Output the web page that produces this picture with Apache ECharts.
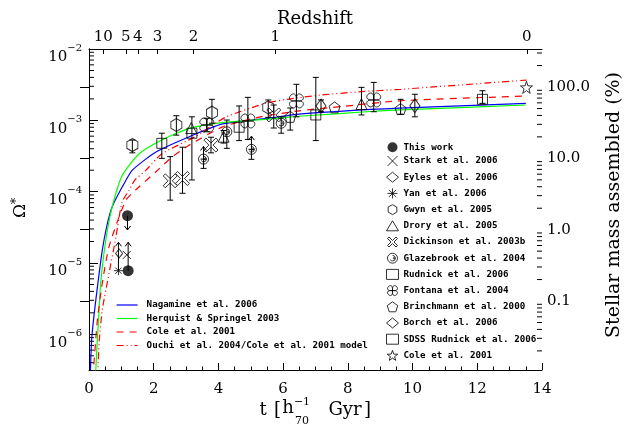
<!DOCTYPE html>
<html><head><meta charset="utf-8">
<script src="https://cdn.jsdelivr.net/npm/echarts@6/dist/echarts.min.js"></script>
<style>html,body{margin:0;padding:0;background:#fff}#c{width:633px;height:426px}</style>
</head><body><div id="c"></div>
<script>
// ---------- axes ----------
const tRange = [0, 14];
const omegaRange = [3.162e-7, 1e-2];
const omegaToday = 2.93e-3;           // Omega* at t0  ->  100 %
const zTickT = [0.44, 1.14, 1.51, 2.12, 3.23, 5.76, 13.53];
const zTickLabels = ['10', '5', '4', '3', '2', '1', '0'];
const omegaMinorTicks = [4e-7,5e-7,6e-7,7e-7,8e-7,9e-7,
  2e-6,3e-6,4e-6,5e-6,6e-6,7e-6,8e-6,9e-6,
  2e-5,3e-5,4e-5,5e-5,6e-5,7e-5,8e-5,9e-5,
  2e-4,3e-4,4e-4,5e-4,6e-4,7e-4,8e-4,9e-4,
  2e-3,3e-3,4e-3,5e-3,6e-3,7e-3,8e-3,9e-3];
const pctMinorTicks = [0.02,0.03,0.04,0.05,0.06,0.07,0.08,0.09,
  0.2,0.3,0.4,0.5,0.6,0.7,0.8,0.9, 2,3,4,5,6,7,8,9,
  20,30,40,50,60,70,80,90, 200,300];

// ---------- model curves  [t, Omega*] ----------
const nagamine = [[0.03,2.0e-7],[0.08,8.3e-7],[0.15,1.76e-6],[0.26,4.6e-6],[0.41,1.5e-5],[0.55,3.3e-5],
  [0.72,6.2e-5],[1.03,1.17e-4],[1.34,2.0e-4],[2.07,3.6e-4],[3.10,5.9e-4],[4.13,8.9e-4],[5.6,1.08e-3],
  [6.5,1.22e-3],[8.7,1.42e-3],[9.6,1.48e-3],[13.5,1.73e-3]];
const hernquist = [[0.2,2.5e-7],[0.24,6.0e-7],[0.3,1.76e-6],[0.36,5.2e-6],[0.52,2.1e-5],[0.72,6.2e-5],
  [1.03,1.7e-4],[1.55,3.4e-4],[2.25,5.3e-4],[3.10,7.7e-4],[4.13,9.3e-4],[5.6,1.05e-3],[6.5,1.14e-3],
  [8.7,1.33e-3],[9.6,1.4e-3],[13.5,1.64e-3]];
const cole01 = [[0.12,2.5e-7],[0.26,1.6e-6],[0.41,5.2e-6],[0.62,1.7e-5],[1.14,7.6e-5],[1.55,1.17e-4],
  [2.07,1.9e-4],[2.58,3.1e-4],[3.10,4.5e-4],[4.13,8.1e-4],[5.3,1.12e-3],[6.5,1.36e-3],[7.8,1.56e-3],
  [9.6,1.88e-3],[13.5,2.19e-3]];
const ouchi = [[0.27,2.5e-7],[0.31,7.4e-7],[0.41,2.2e-6],[0.62,7.2e-6],[0.83,2.3e-5],[1.02,7.1e-5],
  [1.24,1.05e-4],[1.42,1.46e-4],[1.76,2.0e-4],[2.25,3.4e-4],[3.28,5.9e-4],[4.21,1.1e-3],[5.45,1.73e-3],
  [6.12,1.97e-3],[7.15,2.26e-3],[8.39,2.52e-3],[9.63,2.72e-3],[13.52,3.67e-3]];

// ---------- observations  [t, Omega*, errLow, errHigh] ----------
const thisWork   = [[1.19,4.6e-5],[1.21,7.8e-6]];
const stark      = [[1.17,1.3e-5]];
const eyles      = [[0.93,1.36e-5]];
const yan        = [[0.91,7.8e-6]];
const gwyn       = [[1.34,4.5e-4,3.5e-4,5.3e-4],[2.70,8.6e-4,6.2e-4,1.16e-3],[3.80,1.28e-3,9.1e-4,1.97e-3],[5.54,1.52e-3,1.1e-3,1.93e-3]];
const drory      = [[3.16,7.8e-4],[4.16,5.9e-4,4.8e-4,7.2e-4],[8.42,1.69e-3,1.19e-3,2.9e-3]];
const dickinson  = [[2.51,1.42e-4,7.6e-5,3.1e-4],[2.89,1.53e-4,9.5e-5,4.2e-4],[3.77,4.5e-4,3.5e-4,5.8e-4],[5.71,1.19e-3,7.8e-4,1.64e-3]];
const glazebrook = [[3.54,2.86e-4,2.12e-4,2.86e-4],[4.26,6.9e-4,4.05e-4,1.01e-3],[5.02,3.92e-4,2.84e-4,3.92e-4],[5.94,9.1e-4,6.6e-4,1.12e-3]];
const rudnick    = [[2.25,4.76e-4,2.93e-4,6.6e-4],[3.18,6.6e-4,1.46e-4,1.12e-3],[4.64,8.0e-4,5.2e-4,1.59e-3],[7.01,1.19e-3,5.2e-4,4.0e-3]];
const fontana    = [[3.64,8.6e-4,6.9e-4,1.07e-3],[4.91,9.8e-4,5.4e-4,2.1e-3],[6.41,1.87e-3,1.12e-3,3.2e-3],[8.80,1.93e-3,1.32e-3,3.4e-3]];
const brinchmann = [[6.22,1.12e-3,7.3e-4,1.49e-3],[7.59,1.52e-3],[9.63,1.44e-3,1.22e-3,1.97e-3]];
const borch      = [[7.17,1.59e-3,1.32e-3,1.93e-3],[10.07,1.6e-3,1.12e-3,2.32e-3]];
const sdss       = [[12.16,1.97e-3,1.73e-3,2.6e-3]];
const cole       = [[13.52,2.9e-3]];
// limits  [t, from, arrow tip]
const limits = [[1.19,4.6e-5,2.9e-5],[1.21,7.8e-6,1.95e-5],[0.91,7.8e-6,1.95e-5],[3.54,2.86e-4,4.3e-4],[5.02,3.92e-4,6.0e-4]];

// ---------- styles ----------
const SERIF = 'DejaVu Serif';
const hollow = {color: 'none', borderColor: '#000', borderWidth: 1};
const SYM = {
  x: 'path://M-1,-1 L1,1 M1,-1 L-1,1',
  ast: 'path://M-1,0 L1,0 M0,-1 L0,1 M-0.7,-0.7 L0.7,0.7 M0.7,-0.7 L-0.7,0.7',
  hex: 'path://M0,-1 L0.866,-0.5 L0.866,0.5 L0,1 L-0.866,0.5 L-0.866,-0.5 Z',
  bigx: 'path://M-1,-0.7 L-0.7,-1 L0,-0.3 L0.7,-1 L1,-0.7 L0.3,0 L1,0.7 L0.7,1 L0,0.3 L-0.7,1 L-1,0.7 L-0.3,0 Z',
  spiral: 'path://M0,-1 A1,1 0 1,1 -0.01,-1 M0.15,0 A0.15,0.15 0 1,1 0.149,0.02 M0,-0.55 A0.55,0.55 0 1,1 -0.45,0.3',
  flower: 'path://M0,0 C-0.1,1.3 1.3,-0.1 0,0 M0,0 C0.1,1.3 -1.3,-0.1 0,0 M0,0 C0.1,-1.3 -1.3,0.1 0,0 M0,0 C-0.1,-1.3 1.3,0.1 0,0',
  pent: 'path://M0,-1 L0.951,-0.309 L0.588,0.809 L-0.588,0.809 L-0.951,-0.309 Z',
  star: 'path://M0,-1 L0.235,-0.324 L0.951,-0.309 L0.380,0.124 L0.588,0.809 L0,0.4 L-0.588,0.809 L-0.380,0.124 L-0.951,-0.309 L-0.235,-0.324 Z'
};
const surveys = [
  ['This work', thisWork, 'circle', 11, {color:'#000'}],
  ['Stark et al. 2006', stark, SYM.x, 8],
  ['Eyles et al. 2006', eyles, 'diamond', [7,9]],
  ['Yan et al. 2006', yan, SYM.ast, 9],
  ['Gwyn et al. 2005', gwyn, SYM.hex, [11,13]],
  ['Drory et al. 2005', drory, 'triangle', 11],
  ['Dickinson et al. 2003b', dickinson, SYM.bigx, 14],
  ['Glazebrook et al. 2004', glazebrook, SYM.spiral, 10],
  ['Rudnick et al. 2006', rudnick, 'rect', 10],
  ['Fontana et al. 2004', fontana, SYM.flower, 14],
  ['Brinchmann et al. 2000', brinchmann, SYM.pent, 11],
  ['Borch et al. 2006', borch, 'diamond', [10,14]],
  ['SDSS Rudnick et al. 2006', sdss, 'rect', 10],
  ['Cole et al. 2001', cole, SYM.star, 12]
];
const curves = [
  ['Nagamine et al. 2006', nagamine, '#0000ff', 'solid'],
  ['Herquist & Springel 2003', hernquist, '#00ff00', 'solid'],
  ['Cole et al. 2001 ', cole01, '#ff0000', [7,6]],
  ['Ouchi et al. 2004/Cole et al. 2001 model', ouchi, '#ff0000', [7,3,1,3,1,3]]
];

const errRows = [];
surveys.forEach(s => s[1].forEach(r => { if (r.length >= 4) errRows.push([r[0], r[2], r[3]]); }));

function errRender(params, api) {
  const a = api.coord([api.value(0), api.value(1)]);
  const b = api.coord([api.value(0), api.value(2)]);
  const w = 3, st = {stroke:'#000', lineWidth:1};
  return {type:'group', children:[
    {type:'line', shape:{x1:a[0],y1:a[1],x2:b[0],y2:b[1]}, style:st},
    {type:'line', shape:{x1:a[0]-w,y1:a[1],x2:a[0]+w,y2:a[1]}, style:st},
    {type:'line', shape:{x1:b[0]-w,y1:b[1],x2:b[0]+w,y2:b[1]}, style:st}
  ]};
}
function limitRender(params, api) {
  const a = api.coord([api.value(0), api.value(1)]);
  const b = api.coord([api.value(0), api.value(2)]);
  const d = b[1] < a[1] ? 1 : -1, h = 4, w = 3, st = {stroke:'#000', lineWidth:1, fill:'none'};
  return {type:'group', children:[
    {type:'line', shape:{x1:a[0],y1:a[1],x2:b[0],y2:b[1]}, style:st},
    {type:'polyline', shape:{points:[[b[0]-w,b[1]+d*h],[b[0],b[1]],[b[0]+w,b[1]+d*h]]}, style:st}
  ]};
}
function tickRender(len) {
  return function (params, api) {
    const p = api.coord([api.value(0), api.value(1)]);
    return {type:'line', shape:{x1:p[0],y1:p[1],x2:p[0]+len,y2:p[1]}, style:{stroke:'#000', lineWidth:1}};
  };
}

const series = [];
curves.forEach(c => series.push({
  name: c[0], type: 'line', data: c[1], showSymbol: false, symbol: 'none', smooth: 0.2, clip: true,
  lineStyle: {color: c[2], width: 1.2, type: c[3]}, itemStyle: {color: c[2]}, z: 2, silent: true
}));
series.push({type:'custom', renderItem: errRender, data: errRows, encode:{x:0, y:[1,2]}, z: 3, silent: true, clip: false});
series.push({type:'custom', renderItem: limitRender, data: limits, encode:{x:0, y:[1,2]}, z: 3, silent: true});
series.push({type:'custom', renderItem: tickRender(5), data: omegaMinorTicks.map(v => [tRange[0], v]), encode:{x:0, y:1}, z: 1, silent: true});
series.push({type:'custom', yAxisIndex: 1, renderItem: tickRender(-5), data: pctMinorTicks.map(v => [tRange[1], v]), encode:{x:0, y:1}, z: 1, silent: true});
surveys.forEach(s => series.push({
  name: s[0], type: 'scatter', data: s[1].map(r => [r[0], r[1]]), symbol: s[2], symbolSize: s[3],
  itemStyle: s[4] || hollow, z: 5, silent: true
}));

const legendText = {fontFamily: 'DejaVu Sans Mono', fontWeight: 'bold', fontSize: 9.2, color: '#000', lineHeight: 10};
const axisLineStyle = {lineStyle: {color: '#000', width: 1}};

const option = {
  animation: false,
  backgroundColor: '#fff',
  grid: {left: 89, right: 91, top: 49, bottom: 56},
  legend: [
    {data: curves.map(c => c[0]), orient: 'vertical', left: 111, top: 295, itemWidth: 21, itemHeight: 10, itemGap: 3.5,
     textStyle: Object.assign({padding: [0,0,0,4]}, legendText), lineStyle: {width: 1.2}, itemStyle: {opacity: 0},
     selectedMode: false, formatter: n => n.trim()},
    {data: surveys.map(s => s[0]), orient: 'vertical', left: 379, top: 137.3, itemWidth: 12, itemHeight: 10, itemGap: 1.2,
     textStyle: legendText, itemStyle: {borderWidth: 1}, selectedMode: false}
  ],
  xAxis: [
    {type: 'value', min: tRange[0], max: tRange[1], interval: 2, position: 'bottom',
     axisLine: axisLineStyle, axisTick: {inside: true, length: 7, lineStyle: {color:'#000'}},
     minorTick: {show: true, splitNumber: 4, length: 3.5, lineStyle: {color:'#000'}},
     axisLabel: {fontFamily: SERIF, fontSize: 15, color: '#000', margin: 12}, splitLine: {show: false}},
    {type: 'value', min: tRange[0], max: tRange[1], position: 'top',
     axisLine: axisLineStyle, axisTick: {inside: true, length: 5, customValues: zTickT, lineStyle: {color:'#000'}},
     axisLabel: {fontFamily: SERIF, fontSize: 15, color: '#000', margin: 4, customValues: zTickT,
       formatter: v => { let k = 0; zTickT.forEach((z, i) => { if (Math.abs(z - v) < Math.abs(zTickT[k] - v)) k = i; }); return zTickLabels[k]; }},
     splitLine: {show: false}}
  ],
  yAxis: [
    {type: 'log', logBase: 10, min: omegaRange[0], max: omegaRange[1], position: 'left',
     axisLine: axisLineStyle, axisTick: {inside: true, length: 9, lineStyle: {color:'#000'}},
     axisLabel: {showMinLabel: false, margin: 7, padding: [10,0,0,0],
       formatter: v => '{b|10}{s|−' + Math.abs(Math.round(Math.log10(v))) + '}',
       rich: {b: {fontFamily: SERIF, fontSize: 15, color: '#000', verticalAlign: 'bottom', lineHeight: 22},
              s: {fontFamily: SERIF, fontSize: 10, color: '#000', verticalAlign: 'top', lineHeight: 12}}},
     splitLine: {show: false}},
    {type: 'log', logBase: 10, min: omegaRange[0] / omegaToday * 100, max: omegaRange[1] / omegaToday * 100, position: 'right',
     axisLine: axisLineStyle, axisTick: {inside: true, length: 9, lineStyle: {color:'#000'}},
     axisLabel: {showMinLabel: false, showMaxLabel: false, margin: 5, fontFamily: SERIF, fontSize: 15, color: '#000',
       formatter: v => v.toFixed(1)},
     splitLine: {show: false}}
  ],
  graphic: [
    {type: 'text', style: {text: 'Redshift', x: 315, y: 19, fontFamily: SERIF, fontSize: 18, fill: '#000', align: 'center', verticalAlign: 'middle'}},
    {type: 'text', x: 21, y: 211, rotation: Math.PI / 2, style: {text: 'Ω', fontFamily: SERIF, fontSize: 17, fill: '#000', align: 'center', verticalAlign: 'middle'}},
    {type: 'text', x: 17, y: 201, rotation: Math.PI / 2, style: {text: '*', fontFamily: SERIF, fontSize: 13, fill: '#000', align: 'center', verticalAlign: 'middle'}},
    {type: 'text', x: 614, y: 205, rotation: Math.PI / 2, style: {text: 'Stellar mass assembled (%)', fontFamily: SERIF, fontSize: 19, fill: '#000', align: 'center', verticalAlign: 'middle'}},
    {type: 'text', x: 263, y: 410, style: {text: 't', fontFamily: SERIF, fontSize: 18, fill: '#000', align: 'center', verticalAlign: 'middle'}},
    {type: 'text', x: 277.5, y: 410, style: {text: '[', fontFamily: SERIF, fontSize: 18, fill: '#000', align: 'center', verticalAlign: 'middle'}},
    {type: 'text', x: 288, y: 408, style: {text: 'h', fontFamily: SERIF, fontSize: 18, fill: '#000', align: 'center', verticalAlign: 'middle'}},
    {type: 'text', x: 302, y: 402, style: {text: '−1', fontFamily: SERIF, fontSize: 11, fill: '#000', align: 'center', verticalAlign: 'middle'}},
    {type: 'text', x: 302, y: 421, style: {text: '70', fontFamily: SERIF, fontSize: 11, fill: '#000', align: 'center', verticalAlign: 'middle'}},
    {type: 'text', x: 345, y: 410, style: {text: 'Gyr', fontFamily: SERIF, fontSize: 18, fill: '#000', align: 'center', verticalAlign: 'middle'}},
    {type: 'text', x: 367.5, y: 410, style: {text: ']', fontFamily: SERIF, fontSize: 18, fill: '#000', align: 'center', verticalAlign: 'middle'}}
  ],
  series: series
};
const chart = echarts.init(document.getElementById('c'), null, {renderer: 'canvas'});
chart.setOption(option);
</script>
</body></html>
